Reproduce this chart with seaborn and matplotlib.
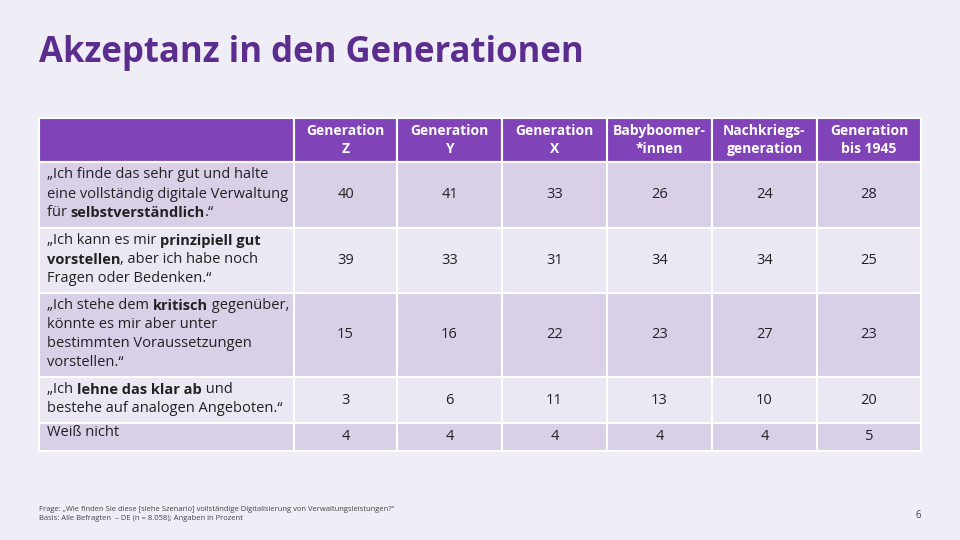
import matplotlib
matplotlib.use('Agg')
import matplotlib.pyplot as plt
import seaborn as sns

sns.set_theme(style='white')
plt.rcParams['font.family'] = ['Open Sans', 'DejaVu Sans']

""" Data of the table """
title = 'Akzeptanz in den Generationen'
generations = ['Generation\nZ', 'Generation\nY', 'Generation\nX',
               'Babyboomer-\n*innen', 'Nachkriegs-\ngeneration', 'Generation\nbis 1945']
# each answer as lines of (text, bold) pieces
answers = [
    [[('„Ich finde das sehr gut und halte', False)],
     [('eine vollständig digitale Verwaltung', False)],
     [('für ', False), ('selbstverständlich', True), ('.“', False)]],
    [[('„Ich kann es mir ', False), ('prinzipiell gut', True)],
     [('vorstellen', True), (', aber ich habe noch', False)],
     [('Fragen oder Bedenken.“', False)]],
    [[('„Ich stehe dem ', False), ('kritisch', True), (' gegenüber,', False)],
     [('könnte es mir aber unter', False)],
     [('bestimmten Voraussetzungen', False)],
     [('vorstellen.“', False)]],
    [[('„Ich ', False), ('lehne das klar ab', True), (' und', False)],
     [('bestehe auf analogen Angeboten.“', False)]],
    [[('Weiß nicht', False)]],
]
values = [
    [40, 41, 33, 26, 24, 28],
    [39, 33, 31, 34, 34, 25],
    [15, 16, 22, 23, 27, 23],
    [3, 6, 11, 13, 10, 20],
    [4, 4, 4, 4, 4, 5],
]
footnote = ('Frage: „Wie finden Sie diese [siehe Szenario] vollständige Digitalisierung von Verwaltungsleistungen?“\n'
            'Basis: Alle Befragten  – DE (n = 8.058); Angaben in Prozent')

""" Layout """
bg = '#efedf6'
purple = '#8044b8'
title_col = '#5b2d8e'
row_cols = ['#d9d0e8', '#ebe7f3']
col_edges = [39, 294, 397, 502, 607, 712, 817, 921]
row_edges = [118, 162, 228, 293, 377, 423, 451]

fig = plt.figure(figsize=(9.6, 5.4), dpi=100, facecolor=bg)
ax = fig.add_axes([0, 0, 1, 1])
ax.set_xlim(0, 960)
ax.set_ylim(540, 0)
ax.axis('off')
ax.set_facecolor(bg)

ax.text(39, 53, title, fontsize=25, fontweight='bold', color=title_col, va='center', ha='left')

# header
for c in range(len(col_edges) - 1):
    x0, x1 = col_edges[c], col_edges[c + 1]
    ax.add_patch(plt.Rectangle((x0, row_edges[0]), x1 - x0, row_edges[1] - row_edges[0],
                               facecolor=purple, edgecolor='white', lw=1.5))
    if c > 0:
        ax.text((x0 + x1) / 2, (row_edges[0] + row_edges[1]) / 2, generations[c - 1],
                ha='center', va='center', color='white', fontsize=10, fontweight='bold',
                linespacing=1.35)

fig.canvas.draw()
renderer = fig.canvas.get_renderer()
inv = ax.transData.inverted()

def rich_line(x, y, pieces):
    for txt, bold in pieces:
        t = ax.text(x, y, txt, fontsize=10.5, color='#222222', va='center', ha='left',
                    fontweight='bold' if bold else 'normal')
        bb = t.get_window_extent(renderer)
        x = inv.transform((bb.x1, 0))[0]

line_h = 19
for r in range(len(values)):
    y0, y1 = row_edges[r + 1], row_edges[r + 2]
    for c in range(len(col_edges) - 1):
        x0, x1 = col_edges[c], col_edges[c + 1]
        ax.add_patch(plt.Rectangle((x0, y0), x1 - x0, y1 - y0,
                                   facecolor=row_cols[r % 2], edgecolor='white', lw=1.5))
        if c > 0:
            ax.text((x0 + x1) / 2, (y0 + y1) / 2, str(values[r][c - 1]), ha='center',
                    va='center', fontsize=10.5, color='#222222')
    lines = answers[r]
    ym = (y0 + y1) / 2 - (len(lines) - 1) * line_h / 2 - (1 if len(lines) > 1 else 4)
    for i, pieces in enumerate(lines):
        rich_line(47, ym + i * line_h, pieces)

ax.text(39, 514, footnote, fontsize=5.5, color='#444444', va='center', ha='left', linespacing=1.3)
ax.text(921, 516, '6', fontsize=7, color='#444444', va='center', ha='right')

plt.savefig('out.png', dpi=100, facecolor=bg)
